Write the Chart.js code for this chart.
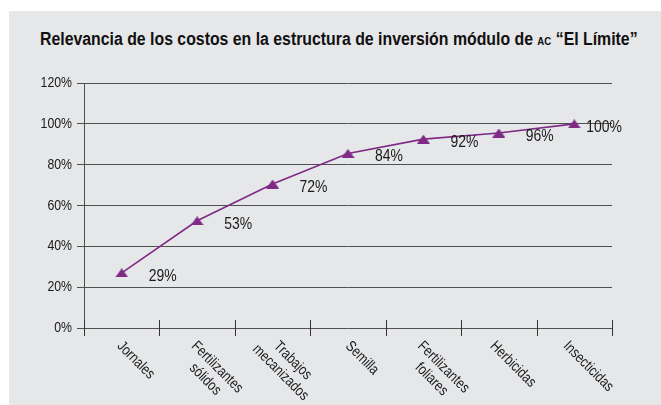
<!DOCTYPE html>
<html>
<head>
<meta charset="utf-8">
<script src="https://cdn.jsdelivr.net/npm/chart.js@4.4.1/dist/chart.umd.min.js"></script>
<style>
  html, body { margin: 0; padding: 0; background: #fff; }
  #wrap { position: relative; width: 661px; height: 405px; overflow: hidden; }
  #panel { position: absolute; left: 9px; top: 11px; right: 0; bottom: 0; background: #e6e7e9; }
  #title {
    position: absolute; left: 40px; top: 28px; white-space: nowrap;
    font-family: "Liberation Sans", Arial, sans-serif;
    font-weight: bold; font-size: 18px; color: #111; line-height: 22px;
    transform: scaleX(0.88); transform-origin: 0 0;
  }
  #title .sc { font-size: 11px; }
  #chart { position: absolute; left: 0; top: 0; }
</style>
</head>
<body>
<div id="wrap">
  <div id="panel"></div>
  <div id="title">Relevancia de los costos en la estructura de inversión módulo de <span class="sc">AC</span> “El Límite”</div>
  <canvas id="chart" width="661" height="405"></canvas>
</div>
<script>
// data
const categories = [
  ["Jornales"],
  ["Fertilizantes", "sólidos"],
  ["Trabajos", "mecanizados"],
  ["Semilla"],
  ["Fertilizantes", "foliares"],
  ["Herbicidas"],
  ["Insecticidas"]
];
const cumulative = [27, 52.5, 70.5, 85.5, 92.5, 95.5, 100];
const labelValues = [29, 53, 72, 84, 92, 96, 100];
const yTicks = [0, 20, 40, 60, 80, 100, 120];

const FONT = '"Liberation Sans", Arial, sans-serif';
const NARROW = 0.82; // squeeze to look like Arial Narrow
const PURPLE = "#7f2a85";
const GRID = "#505050";
const INK = "#1a1a1a";

// flat triangle marker
const tri = document.createElement("canvas");
tri.width = 13; tri.height = 9;
const tctx = tri.getContext("2d");
tctx.fillStyle = PURPLE;
tctx.beginPath();
tctx.moveTo(0, 9); tctx.lineTo(6.5, 0); tctx.lineTo(13, 9);
tctx.closePath();
tctx.fill();

function narrowText(ctx, text, x, y) {
  ctx.save();
  ctx.translate(x, y);
  ctx.scale(NARROW, 1);
  ctx.fillText(text, 0, 0);
  ctx.restore();
}

const axisExtras = {
  id: "axisExtras",
  afterDraw(chart) {
    const ctx = chart.ctx;
    const xs = chart.scales.x;
    const ys = chart.scales.y;
    const area = chart.chartArea;
    ctx.save();

    // category tick marks crossing the axis
    ctx.strokeStyle = "#333";
    ctx.lineWidth = 1;
    for (let i = 0; i <= categories.length; i++) {
      const x = Math.round(xs.getPixelForValue(i - 0.5)) + 0.5;
      ctx.beginPath();
      ctx.moveTo(x, area.bottom - 8);
      ctx.lineTo(x, area.bottom + 8);
      ctx.stroke();
    }

    // y tick labels
    ctx.fillStyle = INK;
    ctx.font = "15px " + FONT;
    ctx.textAlign = "right";
    ctx.textBaseline = "middle";
    yTicks.forEach(v => narrowText(ctx, v + "%", 72, ys.getPixelForValue(v)));

    // rotated category labels (clockwise 45deg, centred lines)
    const L = 17, cap = 11, c = Math.SQRT1_2;
    ctx.textAlign = "left";
    ctx.textBaseline = "alphabetic";
    categories.forEach((lines, i) => {
      const cx = xs.getPixelForValue(i);
      const ws = lines.map(t => ctx.measureText(t).width * NARROW);
      const wmax = Math.max(...ws);
      const H = (lines.length - 1) * L + cap;
      let minTop = Infinity;
      lines.forEach((t, k) => {
        const s = (wmax - ws[k]) / 2;
        minTop = Math.min(minTop, c * (s + k * L));
      });
      const ox = cx + 15 - c * (wmax / 2 - H / 2);
      const oy = area.bottom + 11 - minTop;
      ctx.save();
      ctx.translate(ox, oy);
      ctx.rotate(Math.PI / 4);
      lines.forEach((t, k) => narrowText(ctx, t, (wmax - ws[k]) / 2, k * L + cap));
      ctx.restore();
    });

    // value labels
    const meta = chart.getDatasetMeta(0);
    ctx.font = "17px " + FONT;
    ctx.textBaseline = "middle";
    meta.data.forEach((pt, i) => {
      const last = i === meta.data.length - 1;
      narrowText(ctx, labelValues[i] + "%", pt.x + (last ? 12 : 27), pt.y + 3);
    });
    ctx.restore();
  }
};

new Chart(document.getElementById("chart"), {
  type: "line",
  data: {
    labels: categories,
    datasets: [{
      data: cumulative,
      borderColor: PURPLE,
      borderWidth: 1.6,
      pointStyle: tri,
      pointRadius: 6,
      fill: false,
      tension: 0
    }]
  },
  options: {
    responsive: false,
    animation: false,
    events: [],
    layout: { padding: { top: 83, right: 49, left: 0, bottom: 0 } },
    plugins: { legend: { display: false }, tooltip: { enabled: false } },
    scales: {
      x: {
        offset: true,
        grid: { display: false },
        border: { display: false },
        ticks: { display: false },
        afterFit: s => { s.height = 77; }
      },
      y: {
        min: yTicks[0],
        max: yTicks[yTicks.length - 1],
        afterBuildTicks: s => { s.ticks = yTicks.map(v => ({ value: v })); },
        ticks: { display: false },
        grid: { color: GRID, lineWidth: 1, tickLength: 7 },
        border: { display: true, color: GRID, width: 1 },
        afterFit: s => { s.width = 84; }
      }
    }
  },
  plugins: [axisExtras]
});
</script>
</body>
</html>
